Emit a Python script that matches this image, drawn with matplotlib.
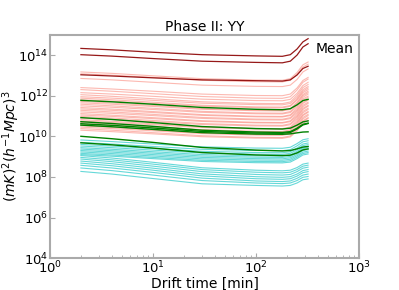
import numpy as np
import matplotlib
matplotlib.use('Agg')
import matplotlib.pyplot as plt

drift_time = [2, 4, 10, 30, 100, 180, 215, 250, 285, 320]

### log10 of the power, one row per curve
dark_rows = [
    [14.33, 14.26, 14.14, 14.02, 13.96, 13.94, 14.02, 14.30, 14.65, 14.81],
    [14.02, 13.95, 13.83, 13.70, 13.64, 13.62, 13.70, 14.00, 14.40, 14.56],
    [13.03, 12.97, 12.88, 12.78, 12.74, 12.72, 12.78, 13.02, 13.34, 13.45],
]

salmon_rows = [
    [13.17, 13.10, 12.98, 12.84, 12.77, 12.76, 12.84, 13.14, 13.52, 13.66],
    [13.08, 13.01, 12.90, 12.76, 12.69, 12.68, 12.76, 13.05, 13.41, 13.55],
    [12.85, 12.78, 12.66, 12.52, 12.46, 12.45, 12.52, 12.80, 13.17, 13.32],
    [12.40, 12.33, 12.22, 12.08, 12.01, 12.00, 12.08, 12.38, 12.75, 12.90],
    [12.30, 12.22, 12.10, 11.96, 11.88, 11.87, 11.95, 12.28, 12.66, 12.82],
    [12.15, 12.08, 11.97, 11.83, 11.76, 11.75, 11.82, 12.12, 12.50, 12.66],
    [12.05, 11.97, 11.85, 11.70, 11.62, 11.61, 11.69, 12.02, 12.40, 12.55],
    [11.95, 11.88, 11.77, 11.63, 11.56, 11.55, 11.62, 11.92, 12.30, 12.45],
    [11.88, 11.80, 11.68, 11.53, 11.45, 11.44, 11.52, 11.84, 12.22, 12.38],
    [11.80, 11.73, 11.62, 11.48, 11.41, 11.40, 11.48, 11.78, 12.15, 12.30],
    [11.72, 11.64, 11.52, 11.37, 11.29, 11.28, 11.36, 11.68, 12.06, 12.22],
    [11.65, 11.58, 11.47, 11.33, 11.26, 11.25, 11.32, 11.62, 12.00, 12.15],
    [11.58, 11.50, 11.38, 11.23, 11.15, 11.14, 11.22, 11.54, 11.92, 12.08],
    [11.50, 11.43, 11.32, 11.18, 11.11, 11.10, 11.17, 11.46, 11.84, 11.98],
    [11.42, 11.34, 11.22, 11.07, 10.99, 10.98, 11.06, 11.38, 11.76, 11.92],
    [11.35, 11.28, 11.17, 11.03, 10.96, 10.95, 11.02, 11.30, 11.68, 11.82],
    [11.28, 11.20, 11.08, 10.93, 10.85, 10.84, 10.92, 11.24, 11.62, 11.78],
    [11.20, 11.13, 11.02, 10.88, 10.81, 10.80, 10.87, 11.16, 11.53, 11.68],
    [11.12, 11.04, 10.92, 10.77, 10.69, 10.68, 10.76, 11.08, 11.46, 11.62],
    [11.05, 10.98, 10.87, 10.73, 10.66, 10.65, 10.72, 11.00, 11.38, 11.52],
    [10.98, 10.90, 10.78, 10.63, 10.55, 10.54, 10.62, 10.94, 11.32, 11.48],
    [10.90, 10.83, 10.72, 10.58, 10.51, 10.50, 10.57, 10.86, 11.23, 11.38],
    [10.82, 10.74, 10.62, 10.47, 10.39, 10.38, 10.46, 10.78, 11.16, 11.32],
    [10.75, 10.68, 10.57, 10.43, 10.36, 10.35, 10.42, 10.70, 11.07, 11.22],
    [10.68, 10.60, 10.48, 10.33, 10.25, 10.24, 10.32, 10.64, 11.02, 11.18],
    [10.60, 10.53, 10.42, 10.28, 10.21, 10.20, 10.27, 10.56, 10.93, 11.08],
    [10.52, 10.44, 10.32, 10.17, 10.09, 10.08, 10.16, 10.48, 10.86, 11.02],
    [10.45, 10.38, 10.27, 10.13, 10.06, 10.05, 10.12, 10.40, 10.77, 10.92],
    [10.38, 10.30, 10.18, 10.03, 9.95, 9.94, 10.02, 10.34, 10.72, 10.88],
    [10.30, 10.23, 10.12, 9.98, 9.91, 9.90, 9.97, 10.26, 10.63, 10.78],
]

green_rows = [
    [11.77, 11.70, 11.58, 11.42, 11.33, 11.31, 11.36, 11.55, 11.76, 11.82],
    [10.92, 10.83, 10.68, 10.48, 10.38, 10.36, 10.40, 10.55, 10.71, 10.76],
    [10.72, 10.63, 10.49, 10.30, 10.21, 10.19, 10.23, 10.40, 10.59, 10.65],
    [10.62, 10.54, 10.41, 10.24, 10.16, 10.15, 10.19, 10.36, 10.56, 10.63],
    [10.55, 10.47, 10.34, 10.18, 10.11, 10.10, 10.12, 10.17, 10.21, 10.22],
    [10.00, 9.88, 9.70, 9.45, 9.32, 9.28, 9.30, 9.38, 9.47, 9.50],
    [9.68, 9.58, 9.42, 9.20, 9.08, 9.05, 9.07, 9.18, 9.33, 9.38],
]

cyan_rows = [
    [9.82, 9.74, 9.62, 9.48, 9.42, 9.41, 9.46, 9.64, 9.83, 9.88],
    [9.70, 9.62, 9.50, 9.36, 9.30, 9.29, 9.34, 9.53, 9.73, 9.78],
    [9.60, 9.52, 9.40, 9.26, 9.20, 9.19, 9.24, 9.42, 9.62, 9.67],
    [9.52, 9.44, 9.32, 9.18, 9.12, 9.11, 9.16, 9.34, 9.54, 9.59],
    [9.44, 9.36, 9.24, 9.10, 9.04, 9.03, 9.08, 9.26, 9.45, 9.50],
    [9.37, 9.29, 9.17, 9.03, 8.97, 8.96, 9.01, 9.19, 9.39, 9.44],
    [9.30, 9.22, 9.10, 8.96, 8.90, 8.89, 8.94, 9.11, 9.30, 9.35],
    [9.23, 9.15, 9.03, 8.89, 8.83, 8.82, 8.87, 9.04, 9.22, 9.27],
    [9.16, 9.08, 8.96, 8.82, 8.76, 8.75, 8.80, 8.97, 9.15, 9.20],
    [9.10, 9.02, 8.90, 8.76, 8.70, 8.69, 8.73, 8.90, 9.08, 9.13],
    [9.05, 8.93, 8.72, 8.45, 8.33, 8.30, 8.33, 8.46, 8.63, 8.68],
    [8.96, 8.84, 8.63, 8.36, 8.23, 8.20, 8.23, 8.36, 8.53, 8.58],
    [8.88, 8.75, 8.53, 8.26, 8.12, 8.09, 8.12, 8.26, 8.43, 8.48],
    [8.78, 8.65, 8.43, 8.15, 8.01, 7.98, 8.01, 8.14, 8.31, 8.36],
    [8.68, 8.55, 8.33, 8.05, 7.91, 7.88, 7.91, 8.04, 8.21, 8.26],
    [8.57, 8.44, 8.22, 7.94, 7.80, 7.77, 7.80, 7.93, 8.09, 8.14],
    [8.44, 8.31, 8.09, 7.82, 7.70, 7.67, 7.70, 7.82, 7.98, 8.02],
    [8.27, 8.14, 7.92, 7.66, 7.58, 7.55, 7.58, 7.70, 7.86, 7.90],
]

fig, ax = plt.subplots(figsize=(3.99, 2.90), dpi=100)
fig.subplots_adjust(left=0.125, right=0.9, bottom=0.11, top=0.88)

for row in salmon_rows:
    ax.plot(drift_time, 10 ** np.array(row), color='salmon', alpha=0.55, lw=0.8)
for row in cyan_rows:
    ax.plot(drift_time, 10 ** np.array(row), color='c', alpha=0.6, lw=0.8)
for row in dark_rows:
    ax.plot(drift_time, 10 ** np.array(row), color='darkred', alpha=0.9, lw=0.9)
for row in green_rows:
    ax.plot(drift_time, 10 ** np.array(row), color='green', lw=1.0)

ax.set_xscale('log')
ax.set_yscale('log')
ax.set_xlim(1, 1000)
ax.set_ylim(1e4, 1e15)

for sp in ax.spines.values():
    sp.set_color('#aaaaaa')
    sp.set_linewidth(1.5)
ax.tick_params(which='both', direction='in', color='#aaaaaa', labelsize=9.5, pad=1)

ax.set_title('Phase II: YY', fontsize=10, pad=3)
ax.set_xlabel('Drift time [min]', fontsize=10)
ax.set_ylabel(r'$(mK)^2(h^{-1}Mpc)^3$', fontsize=10)
ax.xaxis.set_label_coords(0.5, -0.085)
ax.yaxis.set_label_coords(-0.09, 0.5)
ax.text(0.858, 0.935, 'Mean', transform=ax.transAxes, fontsize=10, va='center')

plt.savefig('out.png')
